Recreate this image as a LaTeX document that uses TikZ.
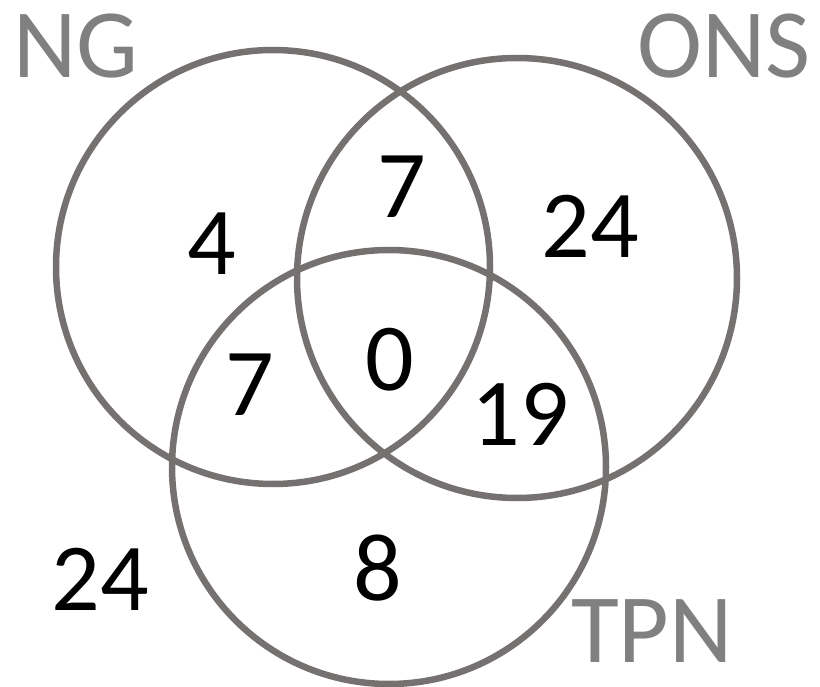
\documentclass[tikz,border=0pt]{standalone}
\usepackage{fontspec}
\setmainfont{Carlito}
\definecolor{ringgray}{RGB}{118,113,113}
\definecolor{labelgray}{RGB}{128,128,128}
\begin{document}
\begin{tikzpicture}[x=1pt,y=-1pt,
  ring/.style={circle,draw=ringgray,line width=6.5pt,inner sep=0pt,minimum size=#1},
  setlabel/.style={anchor=base,text=labelgray,inner sep=0pt,text depth=0pt,font=\fontsize{98}{98}\selectfont},
  count/.style={anchor=base,text=black,inner sep=0pt,text depth=0pt,font=\fontsize{96}{96}\selectfont}]
\useasboundingbox (0,0) rectangle (820,687);
\node[ring=434pt] (ng) at (273,267) {};
\node[ring=440pt] (ons) at (517,278) {};
\node[ring=434pt] (tpn) at (389,467) {};
\node[setlabel] (lng) at (76,78) {NG};
\node[setlabel] (lons) at (724,78) {ONS};
\node[setlabel] (ltpn) at (652,662) {TPN};
\node[count] (n4) at (212,275) {4};
\node[count] (n7a) at (402,218) {7};
\node[count] (n24a) at (590,258) {24};
\node[count] (n7b) at (250,415) {7};
\node[count] (n0) at (390,390) {0};
\node[count] (n19) at (520,445) {19};
\node[count] (n24b) at (100,610) {24};
\node[count] (n8) at (378,600) {8};
\end{tikzpicture}
\end{document}
